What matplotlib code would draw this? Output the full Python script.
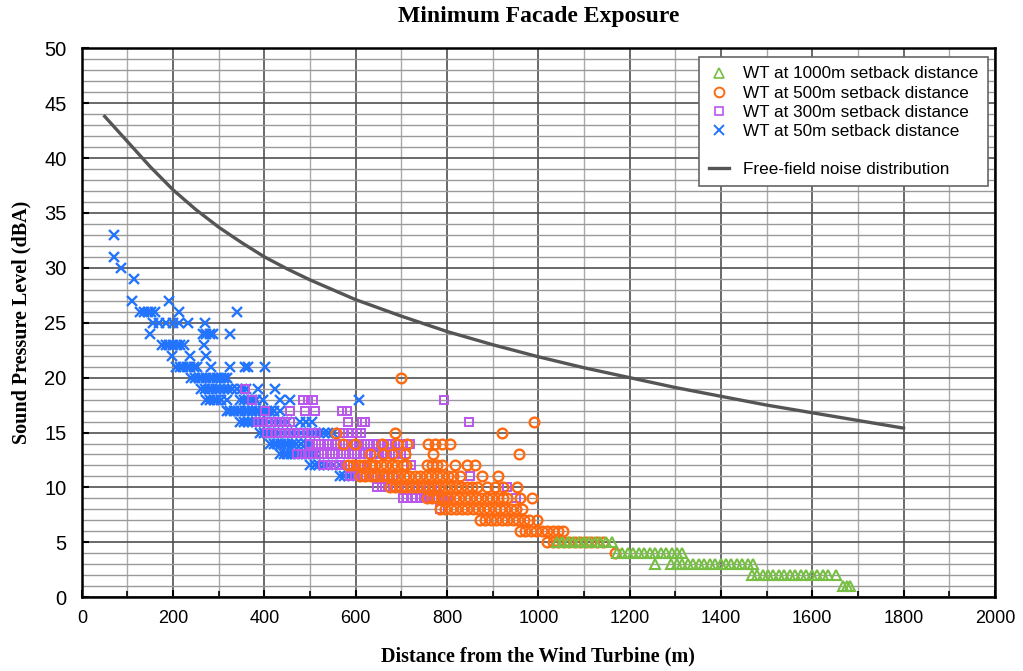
import matplotlib.pyplot as plt
from matplotlib.ticker import MultipleLocator
from matplotlib.lines import Line2D

# distance (m) per sound pressure level (dBA)
wt50 = {
    33: [70], 31: [70], 30: [85], 29: [115], 27: [110, 190],
    26: [128, 136, 144, 152, 160, 212, 340],
    25: [155, 170, 185, 200, 212, 233, 270],
    24: [150, 265, 272, 280, 288, 324],
    23: [176, 184, 192, 200, 208, 216, 224, 268],
    22: [197, 236, 273],
    21: [207, 215, 222, 230, 238, 246, 252, 283, 324, 357, 363, 402],
    20: [240, 248, 256, 264, 272, 280, 288, 296, 304, 312, 318],
    19: [262, 270, 278, 286, 294, 302, 312, 320, 330, 340, 350, 360, 386, 423],
    18: [273, 281, 289, 297, 305, 318, 346, 355, 364, 373, 382, 397, 434, 456, 607],
    17: [317, 325, 333, 341, 349, 357, 365, 373, 381, 389, 397, 405, 413, 421, 434],
    16: [346, 355, 364, 373, 382, 391, 400, 410, 420, 430, 440, 450, 478, 490, 505],
    15: [390, 398, 406, 414, 422, 430, 440, 450, 460, 470, 480, 490, 500, 510, 520, 530, 540, 550],
    14: [412, 420, 428, 436, 444, 452, 460, 470, 480, 490, 500],
    13: [434, 442, 450, 458, 466, 474, 482, 490, 498, 506, 514, 653],
    12: [500, 510, 520, 530, 540, 550, 565],
    11: [565, 575, 585, 594],
}
wt300 = {
    19: [358],
    18: [372, 484, 495, 506, 793],
    17: [401, 456, 488, 510, 569, 580],
    16: [385, 395, 405, 415, 425, 435, 445, 456, 583, 613, 620, 848],
    15: [405, 415, 425, 435, 445, 455, 465, 475, 485, 495, 505, 514, 572, 582, 592, 602, 612],
    14: [500, 512, 524, 536, 548, 560, 572, 584, 596, 608, 620, 632, 644, 656, 668, 680, 692, 704, 719],
    13: [471, 483, 495, 507, 519, 531, 543, 555, 567, 579, 591, 603, 615, 627, 639, 651, 663, 675, 687, 699, 711],
    12: [528, 540, 552, 564, 576, 588, 600, 612, 624, 636, 721],
    11: [587, 599, 611, 623, 635, 647, 659, 671, 682, 850],
    10: [646, 658, 670, 682, 694, 706, 718, 730, 742, 754, 766, 778, 931],
    9: [703, 713, 723, 733, 743, 753, 763, 775, 788, 800, 952],
    8: [784],
}
wt500 = {
    20: [700],
    16: [990],
    15: [556, 686, 920],
    14: [572, 598, 657, 690, 712, 758, 774, 790, 806],
    13: [631, 659, 679, 708, 769, 957],
    12: [583, 595, 607, 619, 631, 643, 655, 667, 679, 691, 703, 711, 755, 767, 777, 790, 817, 843, 861],
    11: [609, 621, 633, 645, 657, 669, 681, 693, 705, 717, 729, 741, 753, 765, 777, 789, 801, 813, 828, 876, 911],
    10: [675, 687, 699, 711, 723, 735, 747, 759, 771, 783, 795, 807, 819, 831, 843, 855, 865, 887, 905, 922, 953],
    9: [755, 767, 779, 791, 803, 815, 827, 839, 851, 863, 875, 887, 899, 911, 923, 931, 959, 986],
    8: [784, 796, 808, 820, 832, 844, 856, 868, 880, 892, 904, 916, 928, 940, 952, 964],
    7: [872, 884, 896, 908, 920, 932, 944, 956, 968, 980, 996],
    6: [959, 971, 983, 995, 1007, 1019, 1031, 1043, 1053],
    5: [1020, 1032, 1044, 1056, 1068, 1080, 1092, 1104, 1116, 1128, 1141],
    4: [1167],
}
wt1000 = {
    5: [1040, 1052, 1064, 1076, 1088, 1100, 1112, 1124, 1136, 1148, 1161],
    4: [1172, 1184, 1196, 1208, 1220, 1232, 1244, 1256, 1268, 1280, 1292, 1304, 1314],
    3: [1255, 1290, 1303, 1315, 1327, 1339, 1351, 1363, 1375, 1387, 1399, 1411, 1423, 1435, 1447, 1459, 1470],
    2: [1467, 1479, 1491, 1503, 1515, 1527, 1539, 1551, 1563, 1575, 1587, 1599, 1611, 1623, 1635, 1653],
    1: [1667, 1675, 1682],
}

ff_dist = [50, 100, 150, 200, 250, 300, 350, 400, 450, 500, 600, 700, 800, 900, 1000,
           1100, 1200, 1300, 1400, 1500, 1600, 1700, 1800]
ff_spl = [43.8, 41.5, 39.2, 37.1, 35.3, 33.7, 32.3, 31.0, 29.9, 28.9, 27.1, 25.6, 24.2, 23.0, 21.9,
          20.9, 20.0, 19.1, 18.3, 17.5, 16.8, 16.1, 15.4]


def flat(d):
    xs, ys = [], []
    for lvl, dists in d.items():
        xs += dists
        ys += [lvl] * len(dists)
    return xs, ys


fig = plt.figure(figsize=(10.23, 6.71), dpi=100)
ax = fig.add_axes([0.080, 0.110, 0.8925, 0.818])

# grid
ax.xaxis.set_major_locator(MultipleLocator(200))
ax.xaxis.set_minor_locator(MultipleLocator(100))
ax.yaxis.set_major_locator(MultipleLocator(5))
ax.yaxis.set_minor_locator(MultipleLocator(1))
ax.grid(which='minor', axis='y', color='#999999', lw=1.0)
ax.grid(which='major', axis='y', color='#505050', lw=1.2)
ax.grid(which='minor', axis='x', color='#aaaaaa', lw=1.0)
ax.grid(which='major', axis='x', color='#505050', lw=1.2)
ax.set_axisbelow(True)

c_green = '#77bf43'
c_orange = '#ff6a10'
c_purple = '#bb55ee'
c_blue = '#2274ff'

x, y = flat(wt50)
ax.plot(x, y, 'x', color=c_blue, ms=7.5, mew=1.7, ls='none')
x, y = flat(wt300)
ax.plot(x, y, 's', mfc='none', mec=c_purple, ms=6, mew=1.4, ls='none')
x, y = flat(wt500)
ax.plot(x, y, 'o', mfc='none', mec=c_orange, ms=7, mew=1.7, ls='none')
x, y = flat(wt1000)
ax.plot(x, y, '^', mfc='none', mec=c_green, ms=7, mew=1.5, ls='none')
ax.plot(ff_dist, ff_spl, color='#555555', lw=2.4)

ax.set_xlim(0, 2000)
ax.set_ylim(0, 50)

for s in ax.spines.values():
    s.set_linewidth(1.8)
    s.set_color('black')

ax.tick_params(which='both', direction='in', labelsize=13)
ax.tick_params(axis='y', labelsize=14.5)
ax.tick_params(which='major', length=5, width=1.5, pad=9)
ax.tick_params(axis='y', which='major', pad=11)
ax.tick_params(which='minor', length=4, width=1.2)
ax.tick_params(axis='y', which='minor', length=0)
for lab in ax.get_xticklabels():
    lab.set_family('Liberation Sans')
for lab in ax.get_yticklabels():
    lab.set_family('Liberation Sans')
xl = ax.get_xticklabels()
xl[0].set_fontweight('bold')
xl[-1].set_fontweight('bold')

serif = {'family': 'Liberation Serif', 'weight': 'bold'}
ax.set_title('Minimum Facade Exposure', fontdict=serif, fontsize=17, pad=19)
ax.set_xlabel('Distance from the Wind Turbine (m)', fontdict=serif, fontsize=14.5, labelpad=14)
ax.set_ylabel('Sound Pressure Level (dBA)', fontdict=serif, fontsize=14.5, labelpad=9)

handles = [
    Line2D([], [], marker='^', mfc='none', mec=c_green, ms=7, mew=1.2, ls='none'),
    Line2D([], [], marker='o', mfc='none', mec=c_orange, ms=7, mew=1.4, ls='none'),
    Line2D([], [], marker='s', mfc='none', mec=c_purple, ms=6, mew=1.2, ls='none'),
    Line2D([], [], marker='x', color=c_blue, ms=7, mew=1.4, ls='none'),
    Line2D([], [], ls='none'),
    Line2D([], [], color='#555555', lw=2.4),
]
labels = ['WT at 1000m setback distance', 'WT at 500m setback distance',
          'WT at 300m setback distance', 'WT at 50m setback distance',
          ' ', 'Free-field noise distribution']
leg = ax.legend(handles, labels, loc='upper right', bbox_to_anchor=(0.992, 0.984),
                borderaxespad=0,
                prop={'family': 'Liberation Sans', 'size': 12.3}, labelspacing=0.24,
                handlelength=1.2, handletextpad=0.8, borderpad=0.55,
                fancybox=False, framealpha=1, edgecolor='#666666')
leg.get_frame().set_linewidth(1.2)

fig.savefig('out.png', dpi=100)
